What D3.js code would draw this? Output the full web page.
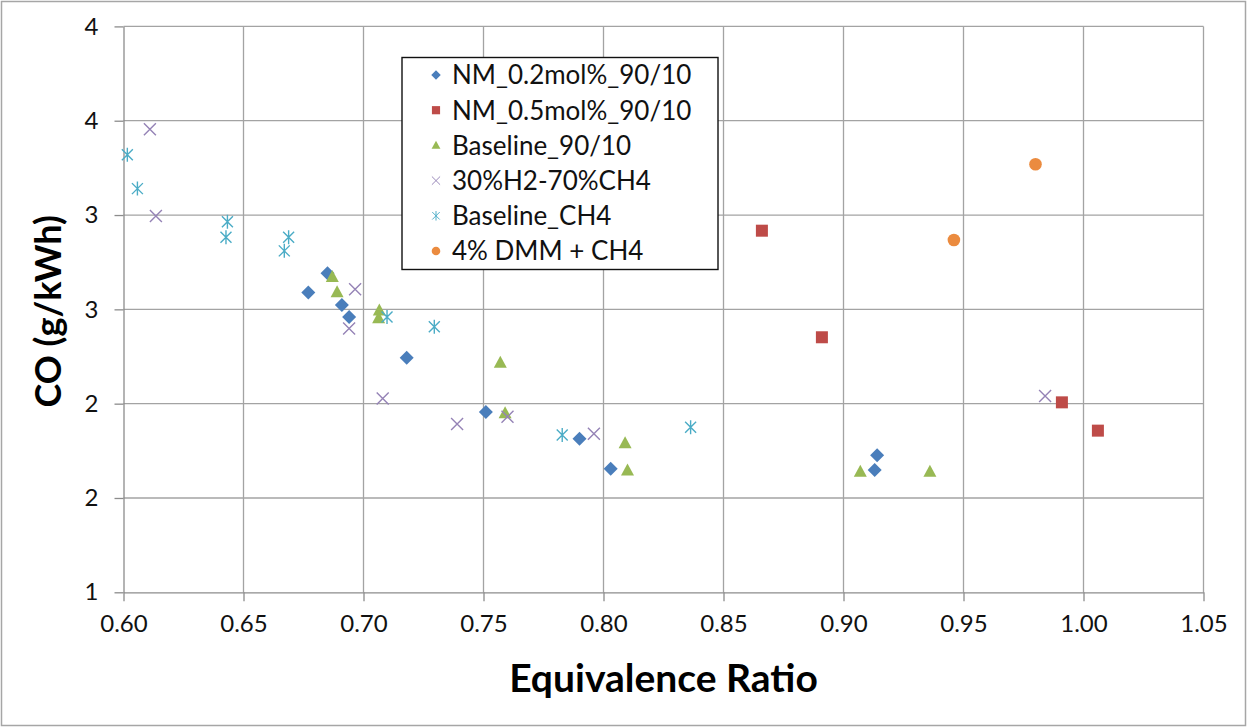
<!DOCTYPE html>
<html>
<head>
<meta charset="utf-8">
<script src="https://cdn.jsdelivr.net/npm/d3@7"></script>
<style>
  html, body { margin: 0; padding: 0; background: #fff; }
  svg { display: block; font-family: Lato, "Open Sans", sans-serif; }
</style>
</head>
<body>
<svg id="chart" width="1247" height="727"></svg>
<script>
// Series: equivalence ratio (x) vs CO emission in g/kWh (y)
const nm02X  = [0.677, 0.685, 0.691, 0.694, 0.718, 0.751, 0.790, 0.803, 0.914, 0.913];
const nm02Y  = [2.589, 2.691, 2.523, 2.459, 2.244, 1.956, 1.814, 1.655, 1.727, 1.648];

const nm05X  = [0.866, 0.891, 0.991, 1.006];
const nm05Y  = [2.917, 2.352, 2.007, 1.857];

const base9010X = [0.687, 0.689, 0.7066, 0.7063, 0.757, 0.759, 0.809, 0.810, 0.907, 0.936];
const base9010Y = [2.672, 2.591, 2.494, 2.453, 2.217, 1.949, 1.790, 1.646, 1.639, 1.639];

const h2ch4X = [0.611, 0.6135, 0.6965, 0.694, 0.708, 0.739, 0.760, 0.796, 0.984];
const h2ch4Y = [3.455, 2.995, 2.607, 2.398, 2.027, 1.892, 1.931, 1.841, 2.041];

const baseCh4X = [0.6016, 0.6058, 0.6433, 0.6427, 0.6688, 0.667, 0.7098, 0.7295, 0.7828, 0.8363];
const baseCh4Y = [3.319, 3.140, 2.965, 2.882, 2.882, 2.810, 2.460, 2.408, 1.834, 1.875];

const dmmX = [0.980, 0.946];
const dmmY = [3.269, 2.868];

const seriesNames = ["NM_0.2mol%_90/10", "NM_0.5mol%_90/10", "Baseline_90/10",
                     "30%H2-70%CH4", "Baseline_CH4", "4% DMM + CH4"];

const xTickValues = [0.60, 0.65, 0.70, 0.75, 0.80, 0.85, 0.90, 0.95, 1.00, 1.05];
const yTickValues = [1, 1.5, 2, 2.5, 3, 3.5, 4];
// axis labels are shown rounded to whole numbers
const yTickLabels = ["1", "2", "2", "3", "3", "4", "4"];

const xTitle = "Equivalence Ratio";
const yTitle = "CO (g/kWh)";

// ---- layout ----
const svg = d3.select("#chart");
const W = 1247, H = 727;
const plot = { left: 123.5, right: 1203.5, top: 26.4, bottom: 592.3 };

const x = d3.scaleLinear().domain([0.60, 1.05]).range([plot.left, plot.right]);
const y = d3.scaleLinear().domain([1, 4]).range([plot.bottom, plot.top]);

// outer frame
svg.append("rect")
  .attr("x", 1.5).attr("y", 1.5).attr("width", W - 3).attr("height", H - 3)
  .attr("fill", "#fff").attr("stroke", "#a6a6a6").attr("stroke-width", 1.5);

// gridlines
const grid = svg.append("g").attr("stroke", "#a3a3a3").attr("stroke-width", 1.3);
grid.selectAll("line.v").data(xTickValues.slice(1)).join("line")
  .attr("x1", d => x(d)).attr("x2", d => x(d))
  .attr("y1", plot.top).attr("y2", plot.bottom);
grid.selectAll("line.h").data(yTickValues.slice(1)).join("line")
  .attr("x1", plot.left).attr("x2", plot.right)
  .attr("y1", d => y(d)).attr("y2", d => y(d));

// axes
const xAxis = d3.axisBottom(x).tickValues(xTickValues).tickFormat(d3.format(".2f"))
  .tickSizeInner(9).tickSizeOuter(0).tickPadding(14);
const yAxis = d3.axisLeft(y).tickValues(yTickValues)
  .tickFormat((d, i) => yTickLabels[i])
  .tickSizeInner(9).tickSizeOuter(0).tickPadding(16);

const gx = svg.append("g").attr("transform", `translate(0,${plot.bottom})`).call(xAxis);
const gy = svg.append("g").attr("transform", `translate(${plot.left},0)`).call(yAxis);

[gx, gy].forEach(g => {
  g.select(".domain").attr("stroke", "#8c8c8c").attr("stroke-width", 1.3);
  g.selectAll(".tick line").attr("stroke", "#8c8c8c").attr("stroke-width", 1.3);
  g.selectAll(".tick text")
    .attr("fill", "#111")
    .style("font-family", "Lato, sans-serif")
    .style("font-size", "24px");
});

// axis titles
svg.append("text")
  .attr("x", (plot.left + plot.right) / 2) .attr("y", 692)
  .attr("text-anchor", "middle")
  .style("font-size", "39px").style("font-weight", "bold").attr("fill", "#000")
  .text(xTitle);

svg.append("text")
  .attr("transform", `translate(61,${(plot.top + plot.bottom) / 2 + 2}) rotate(-90)`)
  .attr("text-anchor", "middle")
  .style("font-size", "36px").style("font-weight", "bold").attr("fill", "#000")
  .text(yTitle);

// ---- marker shapes ----
const markerStyles = [
  { draw: g => g.append("path").attr("d", "M0,-7L7,0L0,7L-7,0Z").attr("fill", "#4a7ebb") },
  { draw: g => g.append("rect").attr("x", -6).attr("y", -6).attr("width", 12).attr("height", 12).attr("fill", "#be4b48") },
  { draw: g => g.append("path").attr("d", "M0,-7L6.5,5L-6.5,5Z").attr("fill", "#98b954") },
  { draw: g => g.append("path").attr("d", "M-6,-6L6,6M-6,6L6,-6").attr("stroke", "#9583b6").attr("stroke-width", 1.4).attr("fill", "none") },
  { draw: g => g.append("path").attr("d", "M-5.5,-5.5L5.5,5.5M-5.5,5.5L5.5,-5.5M0,-7L0,7").attr("stroke", "#4bacc6").attr("stroke-width", 1.4).attr("fill", "none") },
  { draw: g => g.append("circle").attr("r", 6.3).attr("fill", "#eb8b3f") }
];

const seriesData = [
  [nm02X, nm02Y], [nm05X, nm05Y], [base9010X, base9010Y],
  [h2ch4X, h2ch4Y], [baseCh4X, baseCh4Y], [dmmX, dmmY]
];

// draw points (legend order; later series on top)
const marks = svg.append("g");
seriesData.forEach(([xs, ys], si) => {
  const pts = xs.map((v, i) => ({ x: v, y: ys[i] }));
  marks.append("g").attr("class", "series-" + si)
    .selectAll("g").data(pts).join("g")
    .attr("transform", d => `translate(${x(d.x)},${y(d.y)})`)
    .each(function () { markerStyles[si].draw(d3.select(this)); });
});

// ---- legend ----
const legend = svg.append("g");
legend.append("rect")
  .attr("x", 402).attr("y", 57.5).attr("width", 316).attr("height", 212)
  .attr("fill", "#fff").attr("stroke", "#111").attr("stroke-width", 1.4);

const rowY = d3.scaleLinear().domain([0, 5]).range([75, 251]);
seriesNames.forEach((name, i) => {
  const row = legend.append("g").attr("transform", `translate(0,${rowY(i)})`);
  const m = row.append("g").attr("transform", "translate(436,0) scale(0.68)");
  markerStyles[i].draw(m);
  row.append("text")
    .attr("x", 452).attr("y", 0).attr("dy", "0.36em")
    .style("font-size", "26px").attr("fill", "#111")
    .text(name);
});
</script>
</body>
</html>
